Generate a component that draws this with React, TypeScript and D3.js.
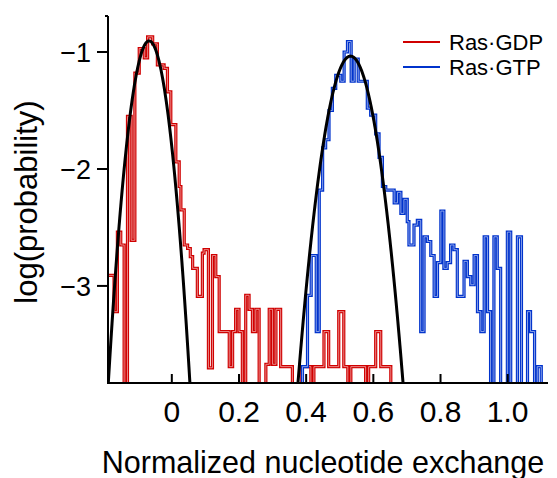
import React from 'react';
import * as d3 from 'd3';

// Histogram steps: bin start (normalized exchange) and log10(probability); null = empty bin
const gdpStart = [-0.19, -0.172, -0.162, -0.152, -0.142, -0.132, -0.121, -0.110, -0.097, -0.082, -0.072, -0.057, -0.043, -0.023, -0.013, -0.003, 0.012, 0.022, 0.027, 0.037, 0.047, 0.055, 0.062, 0.076, 0.091, 0.096, 0.109, 0.121, 0.131, 0.141, 0.171, 0.181, 0.190, 0.200, 0.210, 0.220, 0.230, 0.240, 0.250, 0.260, 0.280, 0.290, 0.300, 0.310, 0.324, 0.359, 0.387, 0.414, 0.423, 0.453, 0.467, 0.497, 0.512, 0.524, 0.533, 0.577, 0.586, 0.607, 0.622, 0.652];
const gdpLog: (number | null)[] = [-2.91, -3.22, -2.54, -2.65, null, -1.55, -2.61, -1.18, -0.97, -1.05, -0.87, -0.93, -1.11, -1.14, -1.34, -1.62, -1.94, -2.15, -2.35, -2.65, -2.68, -2.75, -2.85, -3.09, -2.72, -2.69, -3.70, -2.74, -2.92, -3.39, -3.69, -3.39, -3.20, -3.39, null, -3.08, -3.20, -3.39, -3.20, null, -3.67, -3.20, -3.67, -3.20, -3.69, null, -3.69, null, -3.69, -3.39, -3.69, -3.22, -3.69, null, -3.69, null, -3.69, -3.39, -3.69, null];

const gtpStart = [-0.19, 0.389, 0.404, 0.415, 0.430, 0.439, 0.449, 0.458, 0.468, 0.478, 0.488, 0.503, 0.513, 0.523, 0.534, 0.543, 0.555, 0.582, 0.592, 0.607, 0.617, 0.627, 0.637, 0.662, 0.672, 0.682, 0.691, 0.701, 0.706, 0.721, 0.731, 0.741, 0.751, 0.761, 0.771, 0.781, 0.791, 0.801, 0.810, 0.820, 0.830, 0.840, 0.850, 0.870, 0.880, 0.890, 0.900, 0.910, 0.920, 0.930, 0.940, 0.949, 0.959, 0.969, 0.979, 0.999, 1.009, 1.029, 1.041, 1.059, 1.068, 1.080, 1.088, 1.100];
const gtpLog: (number | null)[] = [null, -3.69, -3.08, -2.74, -3.39, -2.18, -1.82, -1.75, -1.50, -1.31, -1.20, -1.25, -1.00, -0.91, -1.25, -1.06, -1.25, -1.48, -1.54, -1.70, -1.90, -2.15, -2.18, -2.29, -2.20, -2.38, -2.26, -2.45, -2.65, -2.48, -2.44, -3.39, -2.58, -2.62, -2.74, -3.09, -2.80, -2.36, -2.85, -2.80, -2.65, -2.69, -3.09, -2.79, -2.92, -2.99, -2.74, -3.22, -3.39, -2.58, -3.22, null, -2.58, -2.85, null, -2.54, null, -2.58, null, -3.22, -3.39, null, -3.69, null];

const seriesNames = ['Ras·GDP', 'Ras·GTP'];
const seriesColors = ['#d00000', '#0033cc'];
const seriesInner = ['#f0a8a8', '#a8baf0'];

// Gaussian fits (log10 scale): centre, width, peak log value
const fitMu = [-0.0676, 0.532];
const fitSigma = [0.0331, 0.0436];
const fitPeak = [-0.905, -1.035];

const xTicks = [0, 0.2, 0.4, 0.6, 0.8, 1.0];
const xTickLabels = ['0', '0.2', '0.4', '0.6', '0.8', '1.0'];
const yTicks = [-1, -2, -3];
const yTickLabels = ['\u22121', '\u22122', '\u22123'];

const FONT = "'Liberation Sans', Arial, Helvetica, sans-serif";

export default function App() {
  const W = 557, H = 478;
  const xMin = -0.19, xMax = 1.12;
  const x = d3.scaleLinear().domain([xMin, xMax]).range([108, 548]);
  const y = d3.scaleLinear().domain([-3.83, -0.692]).range([383, 16]);
  const floor = -4.3;

  const stepPath = (starts: number[], logs: (number | null)[]) => {
    const pts: [number, number | null][] = starts.map((s, i) => [s, logs[i]]);
    pts.push([xMax, logs[logs.length - 1]]);
    return d3
      .line<[number, number | null]>()
      .x((d) => x(d[0]))
      .y((d) => y(d[1] == null ? floor : d[1]))
      .curve(d3.curveStepAfter)(pts) || '';
  };

  const fitPath = (k: number) => {
    const xs = d3.range(xMin, xMax + 0.0001, 0.001);
    const pts = xs
      .map((v) => [v, fitPeak[k] - ((v - fitMu[k]) ** 2) / (2 * fitSigma[k] ** 2 * Math.LN10)] as [number, number])
      .filter((d) => d[1] > -4.0);
    return d3.line<[number, number]>().x((d) => x(d[0])).y((d) => y(d[1]))(pts) || '';
  };

  const hist = [stepPath(gdpStart, gdpLog), stepPath(gtpStart, gtpLog)];
  const [x0, x1] = x.range();
  const [yb, yt] = y.range();

  return (
    <svg width={W} height={H} style={{ position: 'absolute', left: 0, top: 0, background: '#fff' }} fontFamily={FONT}>
      <defs>
        <clipPath id="plot">
          <rect x={x0} y={0} width={x1 - x0 + 2} height={yb} />
        </clipPath>
      </defs>
      <g clipPath="url(#plot)">
        {hist.map((d, i) => (
          <g key={i}>
            <path d={d} fill="none" stroke={seriesColors[i]} strokeWidth={3.2} strokeLinejoin="miter" />
            <path d={d} fill="none" stroke={seriesInner[i]} strokeWidth={0.8} strokeLinejoin="miter" />
          </g>
        ))}
        {[0, 1].map((k) => (
          <path key={k} d={fitPath(k)} fill="none" stroke="#000" strokeWidth={3} />
        ))}
      </g>
      {/* axes */}
      <line x1={x0} y1={yt} x2={x0} y2={yb + 1} stroke="#000" strokeWidth={2} />
      <line x1={x0 - 1} y1={yb} x2={x1} y2={yb} stroke="#000" strokeWidth={2} />
      <line x1={x0 - 3} y1={yt} x2={x0} y2={yt} stroke="#000" strokeWidth={2} />
      {yTicks.map((t, i) => (
        <g key={t}>
          <line x1={x0 - 11} x2={x0} y1={y(t)} y2={y(t)} stroke="#000" strokeWidth={2} />
          <text x={91} y={y(t)} dy="0.36em" textAnchor="end" fontSize={27} fill="#000">
            {yTickLabels[i]}
          </text>
        </g>
      ))}
      {xTicks.map((t, i) => (
        <g key={t}>
          <line x1={x(t)} x2={x(t)} y1={yb} y2={yb - 9} stroke="#000" strokeWidth={2} />
          <text x={x(t)} y={422} textAnchor="middle" fontSize={30} fill="#000">
            {xTickLabels[i]}
          </text>
        </g>
      ))}
      <text x={323} y={473} textAnchor="middle" fontSize={30.5} fill="#000">
        Normalized nucleotide exchange
      </text>
      <text transform="translate(37,202) rotate(-90)" textAnchor="middle" fontSize={31} fill="#000">
        log(probability)
      </text>
      {/* legend */}
      {seriesNames.map((n, i) => (
        <g key={n}>
          <line x1={403} x2={440} y1={42 + i * 25} y2={42 + i * 25} stroke={seriesColors[i]} strokeWidth={2} />
          <text x={449} y={42 + i * 25} dy="0.36em" fontSize={22} fill="#000">
            {n}
          </text>
        </g>
      ))}
    </svg>
  );
}
